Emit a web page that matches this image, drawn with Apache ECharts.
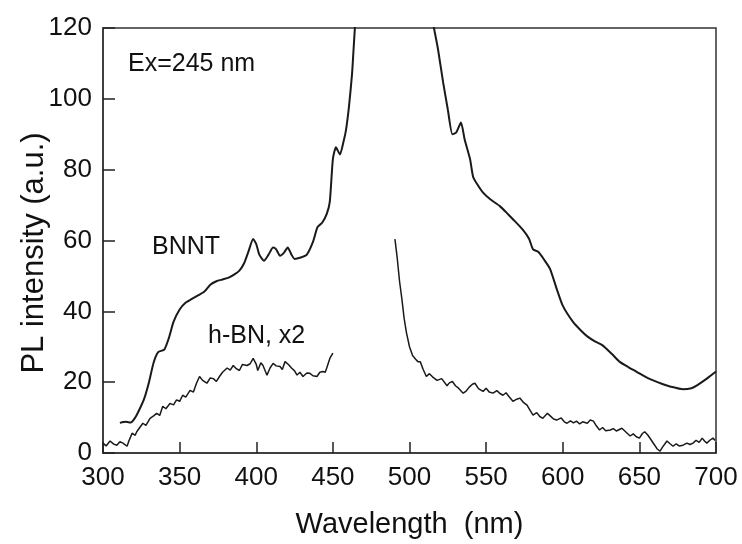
<!DOCTYPE html>
<html>
<head>
<meta charset="utf-8">
<script src="https://cdn.jsdelivr.net/npm/echarts@6/dist/echarts.min.js"></script>
<style>html,body{margin:0;padding:0;background:#fff}#c{width:742px;height:544px}</style>
</head>
<body>
<div id="c"></div>
<script>
// Wavelength (nm) ticks
var xTicks = [300, 350, 400, 450, 500, 550, 600, 650, 700];
var yTicks = [0, 20, 40, 60, 80, 100, 120];

// BNNT spectrum: [wavelength, intensity]; null breaks the off-scale laser region
var bnnt = [
[311,8.5],[315,8.8],[318,8.6],[321,10],[324,12.5],[327,15.5],[330,20],[333,25.5],[336,28.5],[340,29.2],
[343,32.5],[346,37],[350,40.5],[354,42.5],[358,43.5],[362,44.5],[366,45.5],[370,47.5],[374,48.5],[378,49],
[382,49.5],[386,50.5],[389,51.5],[392,53.5],[395,57],[398,60.4],[400,59],[402,56],[405,54.3],[408,56],
[411,58],[413,57.5],[415.5,55.7],[418,56.5],[420.5,58],[423,56],[425,54.8],[429,55.2],[433,56],[437,59.6],
[440,63.8],[443,65],[446,67.5],[448,71],[450,83],[452,86.3],[454.6,84.3],[457,88],[458.5,91],[460.5,97.8],
[462.5,107],[463.5,114],[464.5,121],[490,null],
[515.5,121],[518.6,114],[522,104.5],[525,97],[528,90],[530.5,90.5],[533.6,93.3],[536,88.5],[539.5,83],[541.5,78],
[544,76],[548,73.5],[552.5,71.7],[559,69.7],[563,68],[567.5,66],[574,63],[578,60.5],[580.6,57.5],[584,56.8],
[588,54.5],[591.7,52],[596,46.4],[600,41.6],[606.7,37],[612,34.5],[615.8,33],[621,31.5],[626,30.4],[632,28],
[637,25.8],[643,24.2],[648,23],[654,21.5],[659,20.5],[665,19.5],[670,18.8],[678.5,18],[684,18.3],[687.6,19.1],
[694,21],[700,23]
];

// h-BN (x2) spectrum, short-wavelength part
var hbnLeft = [
[300,2.8],[302,2],[304.6,3.4],[307,2.5],[309,2.2],[311,3.2],[313,2.8],[315.7,1.9],[317,3.5],[319,5.6],
[321,5],[322,6],[324,7.2],[326,8.4],[328,7.8],[330.7,9.8],[333,10.5],[335,11.2],[337,10.6],[339,13.2],
[341,12.5],[343.7,14],[346,13.6],[348,15],[350,14.6],[352,16.3],[354,15.8],[356.8,17.7],[359,17.2],[361,19.7],
[363,21.6],[365,20.5],[367.8,19.7],[370,21.2],[372,21],[374,20.2],[376,21.6],[378,22.8],[381,24],[383,23.4],
[385,24.7],[387,23.8],[389,23.3],[391,25],[394,24.7],[396,25.2],[398,26.7],[400,25],[401,23.3],[403,25.5],
[404.4,24.7],[406,23],[407,22],[409,24],[411,25.3],[413,24.6],[415.5,24.4],[417,23.6],[418.8,25.8],[421,25],
[423,24],[425,23.2],[426.6,22],[428.5,22.8],[430.5,21.6],[433,22.6],[435,22.5],[437,21.8],[439.6,21.6],[441.5,22.8],
[443.5,23],[445,22.8],[446,24],[448,26.7],[450,28.2]
];

// h-BN (x2) spectrum, long-wavelength part
var hbnRight = [
[490.5,60.4],[492,55],[493.5,48.5],[495,43.6],[496.5,38],[498,34],[500,30],[502,27.5],[504,26.5],[505.5,25.8],
[507,25.8],[509,23.5],[511,21.6],[513,22.4],[515,21.5],[518,20.5],[521,21],[524.5,19],[526,19.8],[528,20.2],
[530,19],[532,18.3],[535,16.9],[537,17.5],[539,18.6],[541,19.4],[542.7,19.7],[545,18.2],[548,17.4],[550,18.3],
[552,17.2],[554.5,16.9],[557,17.6],[559,16.8],[561,16.3],[563,17],[565,15.9],[567.5,14.6],[570,15.2],[572,15.5],
[574.5,14.2],[576.7,13.5],[578.5,12.2],[580.6,10.7],[583,11.4],[585,10.3],[587,9.8],[590,11.2],[592,10.4],[594,9.6],
[596,9.3],[599,9.9],[601,8.8],[602.8,8.4],[605,9.1],[607,8.5],[609,9],[611,8.2],[613,8.8],[616,8.4],
[618,9.3],[620,9],[622,7.6],[624,6.5],[626,7.2],[628,6.3],[631,6.5],[633,6.9],[635,6.2],[638.6,7],
[641,6],[644,4.8],[646,5.4],[648,4.6],[650,4.2],[652,5.5],[653.5,6],[655.6,5],[657.5,3.8],[660,2.2],
[661.5,1.2],[663.5,0.5],[665,1.6],[668,3.4],[670,2.6],[672,1.9],[674,2.6],[676,2],[678.5,2.2],[681,2.8],
[683,2.4],[685,2.8],[687,3.6],[689,3],[691,4.2],[692.5,3.4],[694,2.8],[696,3.6],[698,4.2],[699.5,3.5]
];

var labels = ['Ex=245 nm', 'BNNT', 'h-BN, x2'];
var xTitle = 'Wavelength  (nm)';
var yTitle = 'PL intensity (a.u.)';

var FONT = '"Liberation Sans", Arial, Helvetica, sans-serif';
var chart = echarts.init(document.getElementById('c'));
var lineColor = '#1a1a1a';
chart.setOption({
  animation: false,
  backgroundColor: '#fff',
  grid: {left: 103, right: 26, top: 28, bottom: 89, show: true, borderColor: '#333', borderWidth: 1.5, backgroundColor: 'transparent'},
  xAxis: {
    type: 'value', min: xTicks[0], max: xTicks[xTicks.length-1], interval: 50,
    name: xTitle, nameLocation: 'middle', nameGap: 57,
    nameTextStyle: {fontFamily: FONT, fontSize: 29, color: '#111'},
    axisLine: {show: true, lineStyle: {color: '#333', width: 1.5}},
    axisTick: {show: true, inside: true, length: 11, lineStyle: {color: '#222', width: 1.5}},
    axisLabel: {fontFamily: FONT, fontSize: 26, color: '#111', margin: 12},
    splitLine: {show: false}
  },
  yAxis: {
    type: 'value', min: yTicks[0], max: yTicks[yTicks.length-1], interval: 20,
    axisLine: {show: true, lineStyle: {color: '#333', width: 1.5}},
    axisTick: {show: true, inside: true, length: 12, lineStyle: {color: '#222', width: 1.5}},
    axisLabel: {fontFamily: FONT, fontSize: 26, color: '#111', margin: 11},
    splitLine: {show: false}
  },
  graphic: [
    {type: 'text', left: 128, top: 52, style: {text: labels[0], font: '25px ' + FONT, fill: '#111'}},
    {type: 'text', left: 152, top: 235, style: {text: labels[1], font: '25px ' + FONT, fill: '#111'}},
    {type: 'text', left: 208, top: 324, style: {text: labels[2], font: '25px ' + FONT, fill: '#111'}},
    {type: 'text', x: 34, y: 253, rotation: Math.PI/2, style: {text: yTitle, font: '31px ' + FONT, fill: '#111', textAlign: 'center', textVerticalAlign: 'middle'}}
  ],
  series: [
    {type: 'line', data: bnnt, showSymbol: false, smooth: 0.2, connectNulls: false, clip: true,
     lineStyle: {color: lineColor, width: 2}},
    {type: 'line', data: hbnLeft, showSymbol: false, clip: true, lineStyle: {color: lineColor, width: 1.5}},
    {type: 'line', data: hbnRight, showSymbol: false, clip: true, lineStyle: {color: lineColor, width: 1.5}}
  ]
});
</script>
</body>
</html>
